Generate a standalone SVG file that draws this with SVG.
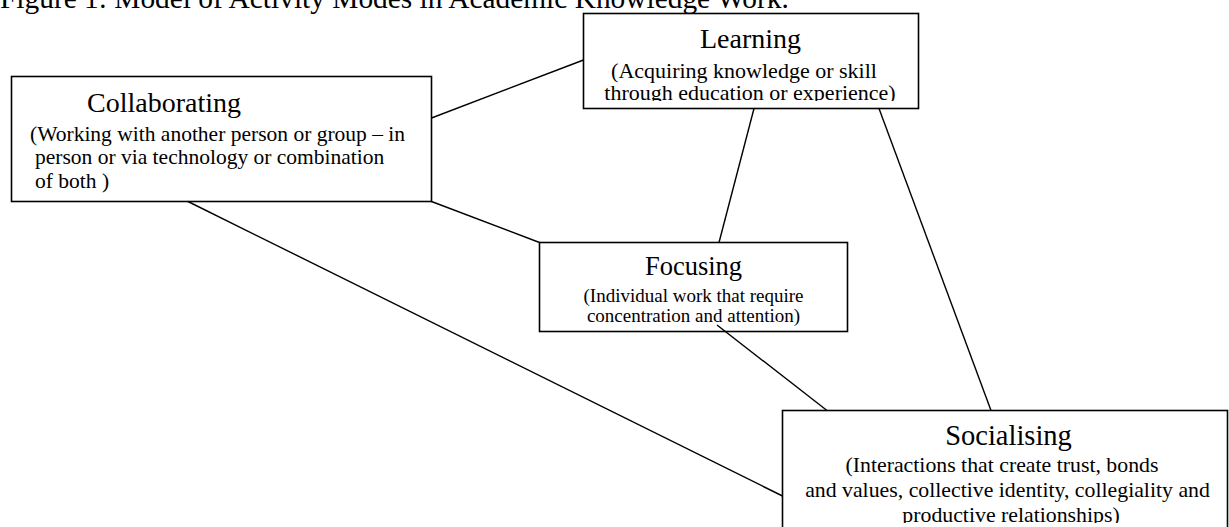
<svg xmlns="http://www.w3.org/2000/svg" width="1229" height="527" viewBox="0 0 1229 527">
<style>
text{font-family:"Liberation Serif","Times New Roman",serif;fill:#000}
.box{fill:#fff;stroke:#000;stroke-width:1.6}
.edge{stroke:#000;stroke-width:1.4;fill:none}
.t{font-size:28px}
.s{font-size:21.5px}
.m{text-anchor:middle}
</style>
<defs>
<clipPath id="clipL"><rect x="584" y="14" width="334" height="87"/></clipPath>
<clipPath id="clipS"><rect x="783" y="411" width="445" height="112"/></clipPath>
</defs>
<rect width="1229" height="527" fill="#fff"/>
<text x="0" y="7.5" style="font-size:29.4px">Figure 1: Model of Activity Modes in Academic Knowledge Work.</text>
<g id="collaborating">
<rect class="box" x="11.5" y="76.5" width="420" height="125"/>
<text class="t" x="87" y="112">Collaborating</text>
<text class="s" x="30" y="141">(Working with another person or group – in</text>
<text class="s" x="35" y="164">person or via technology or combination</text>
<text class="s" x="35" y="188">of both )</text>
</g>
<g id="learning">
<rect class="box" x="583.5" y="13.5" width="335" height="95"/>
<g clip-path="url(#clipL)">
<text class="t m" x="750.5" y="48">Learning</text>
<text class="m" x="744" y="78" style="font-size:22px">(Acquiring knowledge or skill</text>
<text class="m" x="750" y="100" style="font-size:22px">through education or experience)</text>
</g>
</g>
<g id="focusing">
<rect class="box" x="539.5" y="242.5" width="308" height="89"/>
<text class="m" x="693.5" y="275" style="font-size:26.5px">Focusing</text>
<text class="m" x="693.5" y="302" style="font-size:19px">(Individual work that require</text>
<text class="m" x="693.5" y="322" style="font-size:19px">concentration and attention)</text>
</g>
<g id="socialising">
<rect class="box" x="782.5" y="410.5" width="445" height="130"/>
<g clip-path="url(#clipS)">
<text class="m" x="1008.5" y="445" style="font-size:28.5px">Socialising</text>
<text class="m" x="1002" y="472" style="font-size:21.8px">(Interactions that create trust, bonds</text>
<text class="m" x="1007.5" y="497" style="font-size:21.8px">and values, collective identity, collegiality and</text>
<text class="m" x="1011" y="522" style="font-size:21.8px">productive relationships)</text>
</g>
</g>
<g id="connectors">
<line class="edge" x1="431.5" y1="118" x2="583.5" y2="60"/>
<line class="edge" x1="431.5" y1="201.5" x2="539.5" y2="242.5"/>
<line class="edge" x1="188" y1="201.5" x2="782.5" y2="496"/>
<line class="edge" x1="754" y1="108.5" x2="719" y2="242.5"/>
<line class="edge" x1="879" y1="108.5" x2="991" y2="410.5"/>
<line class="edge" x1="717" y1="325" x2="827" y2="410.5"/>
</g>
</svg>
